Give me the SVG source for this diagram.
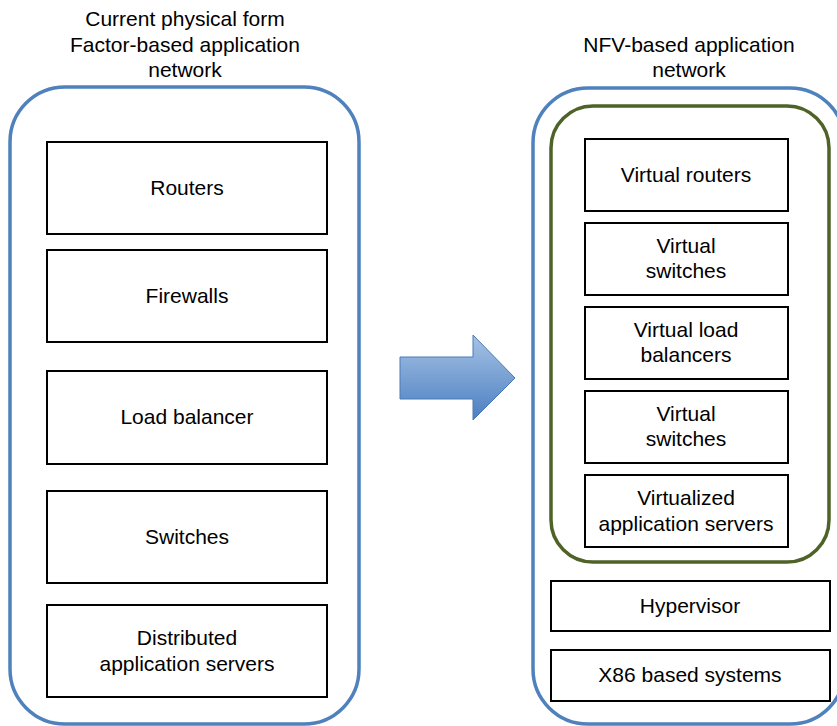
<svg xmlns="http://www.w3.org/2000/svg" width="837" height="726" viewBox="0 0 837 726">
<defs>
<style>
.t{font-family:"Liberation Sans",Arial,sans-serif;font-size:21px;fill:#000;text-anchor:middle}
.box{fill:#fff;stroke:#000;stroke-width:2}
.outer{fill:none;stroke:#4f81bd;stroke-width:3.5}
.green{fill:none;stroke:#4f6228;stroke-width:3.5}
</style>
<linearGradient id="ag" x1="0" y1="0" x2="0" y2="1">
<stop offset="0" stop-color="#a7c2e5"/>
<stop offset="1" stop-color="#4a7fc1"/>
</linearGradient>
</defs>
<rect width="837" height="726" fill="#fff"/>
<g id="title-left">
<text class="t" x="185" y="26">Current physical form</text>
<text class="t" x="185" y="52">Factor-based application</text>
<text class="t" x="185" y="77">network</text>
</g>
<g id="title-right">
<text class="t" x="689" y="52">NFV-based application</text>
<text class="t" x="689" y="77">network</text>
</g>
<g id="left-container">
<rect class="outer" x="10" y="87" width="349" height="637" rx="55" ry="55"/>
</g>
<g id="routers"><rect class="box" x="47" y="142" width="280" height="92"/><text class="t" x="187" y="195">Routers</text></g>
<g id="firewalls"><rect class="box" x="47" y="250" width="280" height="92"/><text class="t" x="187" y="303">Firewalls</text></g>
<g id="load-balancer"><rect class="box" x="47" y="371" width="280" height="93"/><text class="t" x="187" y="424">Load balancer</text></g>
<g id="switches"><rect class="box" x="47" y="491" width="280" height="92"/><text class="t" x="187" y="544">Switches</text></g>
<g id="distributed"><rect class="box" x="47" y="605" width="280" height="92"/><text class="t" x="187" y="645">Distributed</text><text class="t" x="187" y="671">application servers</text></g>
<g id="connectors">
<path d="M400,357 H473 V335 L515,378 L473,420 V399 H400 Z" fill="url(#ag)" stroke="#4a7ab5" stroke-width="1"/>
</g>
<g id="right-container">
<rect class="outer" x="533" y="88" width="312" height="636" rx="55" ry="55"/>
</g>
<g id="vnf-group">
<rect class="green" x="551" y="106" width="278" height="456" rx="42" ry="42"/>
</g>
<g id="virtual-routers"><rect class="box" x="585" y="139" width="203" height="72"/><text class="t" x="686" y="182">Virtual routers</text></g>
<g id="virtual-switches-1"><rect class="box" x="585" y="223" width="203" height="72"/><text class="t" x="686" y="253">Virtual</text><text class="t" x="686" y="278">switches</text></g>
<g id="virtual-load-balancers"><rect class="box" x="585" y="307" width="203" height="72"/><text class="t" x="686" y="337">Virtual load</text><text class="t" x="686" y="362">balancers</text></g>
<g id="virtual-switches-2"><rect class="box" x="585" y="391" width="203" height="72"/><text class="t" x="686" y="421">Virtual</text><text class="t" x="686" y="446">switches</text></g>
<g id="virtualized-servers"><rect class="box" x="585" y="475" width="203" height="72"/><text class="t" x="686" y="505">Virtualized</text><text class="t" x="686" y="531">application servers</text></g>
<g id="hypervisor"><rect class="box" x="551" y="581" width="279" height="50"/><text class="t" x="690" y="613">Hypervisor</text></g>
<g id="x86"><rect class="box" x="551" y="650" width="279" height="51"/><text class="t" x="690" y="682">X86 based systems</text></g>
</svg>
